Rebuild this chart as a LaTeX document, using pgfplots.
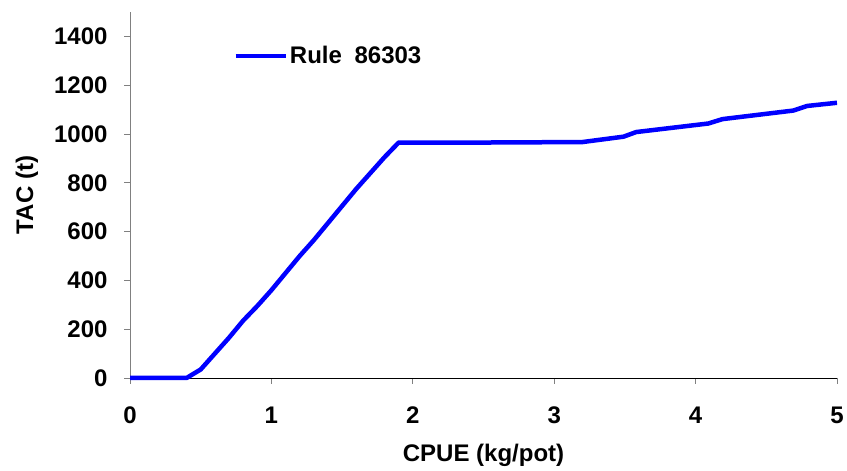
\documentclass[border=0pt]{standalone}
\usepackage{fontspec}
\setmainfont{Liberation Sans}
\usepackage{pgfplots}
\pgfplotsset{compat=1.18}
\begin{document}
\begin{tikzpicture}
\definecolor{ruleblue}{RGB}{0,0,255}
\begin{axis}[
    scale only axis,
    width=707pt, height=366pt,
    xmin=0, xmax=5, ymin=0, ymax=1500,
    xtick={0,1,2,3,4,5},
    ytick={0,200,400,600,800,1000,1200,1400},
    axis x line*=bottom, axis y line*=left,
    x axis line style={-, black, line width=0.8pt},
    y axis line style={-, gray, line width=0.8pt},
    tick style={gray, line width=0.8pt},
    tick align=outside,
    major tick length=6pt,
    /pgf/number format/assume math mode=true,
    /pgf/number format/1000 sep={},
    ticklabel style={font=\fontsize{24}{28}\selectfont\bfseries},
    xticklabel style={yshift=-19pt},
    yticklabel style={xshift=-13pt},
    xlabel={CPUE (kg/pot)},
    ylabel={TAC (t)},
    label style={font=\fontsize{24}{28}\selectfont\bfseries},
    xlabel style={yshift=-14pt},
    ylabel style={yshift=9pt},
    clip=false,
    legend style={at={(0.146,0.88)}, anchor=west, draw=none, fill=none,
        font=\fontsize{24}{28}\selectfont\bfseries, inner sep=0pt,
        /tikz/every even column/.append style={column sep=2pt}},
    legend image code/.code={\draw[#1] (0pt,0pt) -- (50pt,0pt);},
]
\addplot[ruleblue, line width=4.5pt, line join=round] coordinates {
    (0,0) (0.4,0) (0.5,35) (0.6,100) (0.7,165) (0.8,235)
    (0.9,295) (1.0,360) (1.1,430) (1.2,500) (1.3,565)
    (1.4,635) (1.5,705) (1.6,775) (1.7,840) (1.8,905) (1.9,965)
    (2.5,965) (3.2,967) (3.49,989) (3.58,1008) (4.09,1043)
    (4.19,1061) (4.69,1096) (4.79,1115) (5.0,1128)
};
\legend{Rule\hspace{0.25em} 86303}
\path (rel axis cs:-0.1839,-0.2377) rectangle (rel axis cs:1.0141,1.0328);
\end{axis}
\end{tikzpicture}
\end{document}
